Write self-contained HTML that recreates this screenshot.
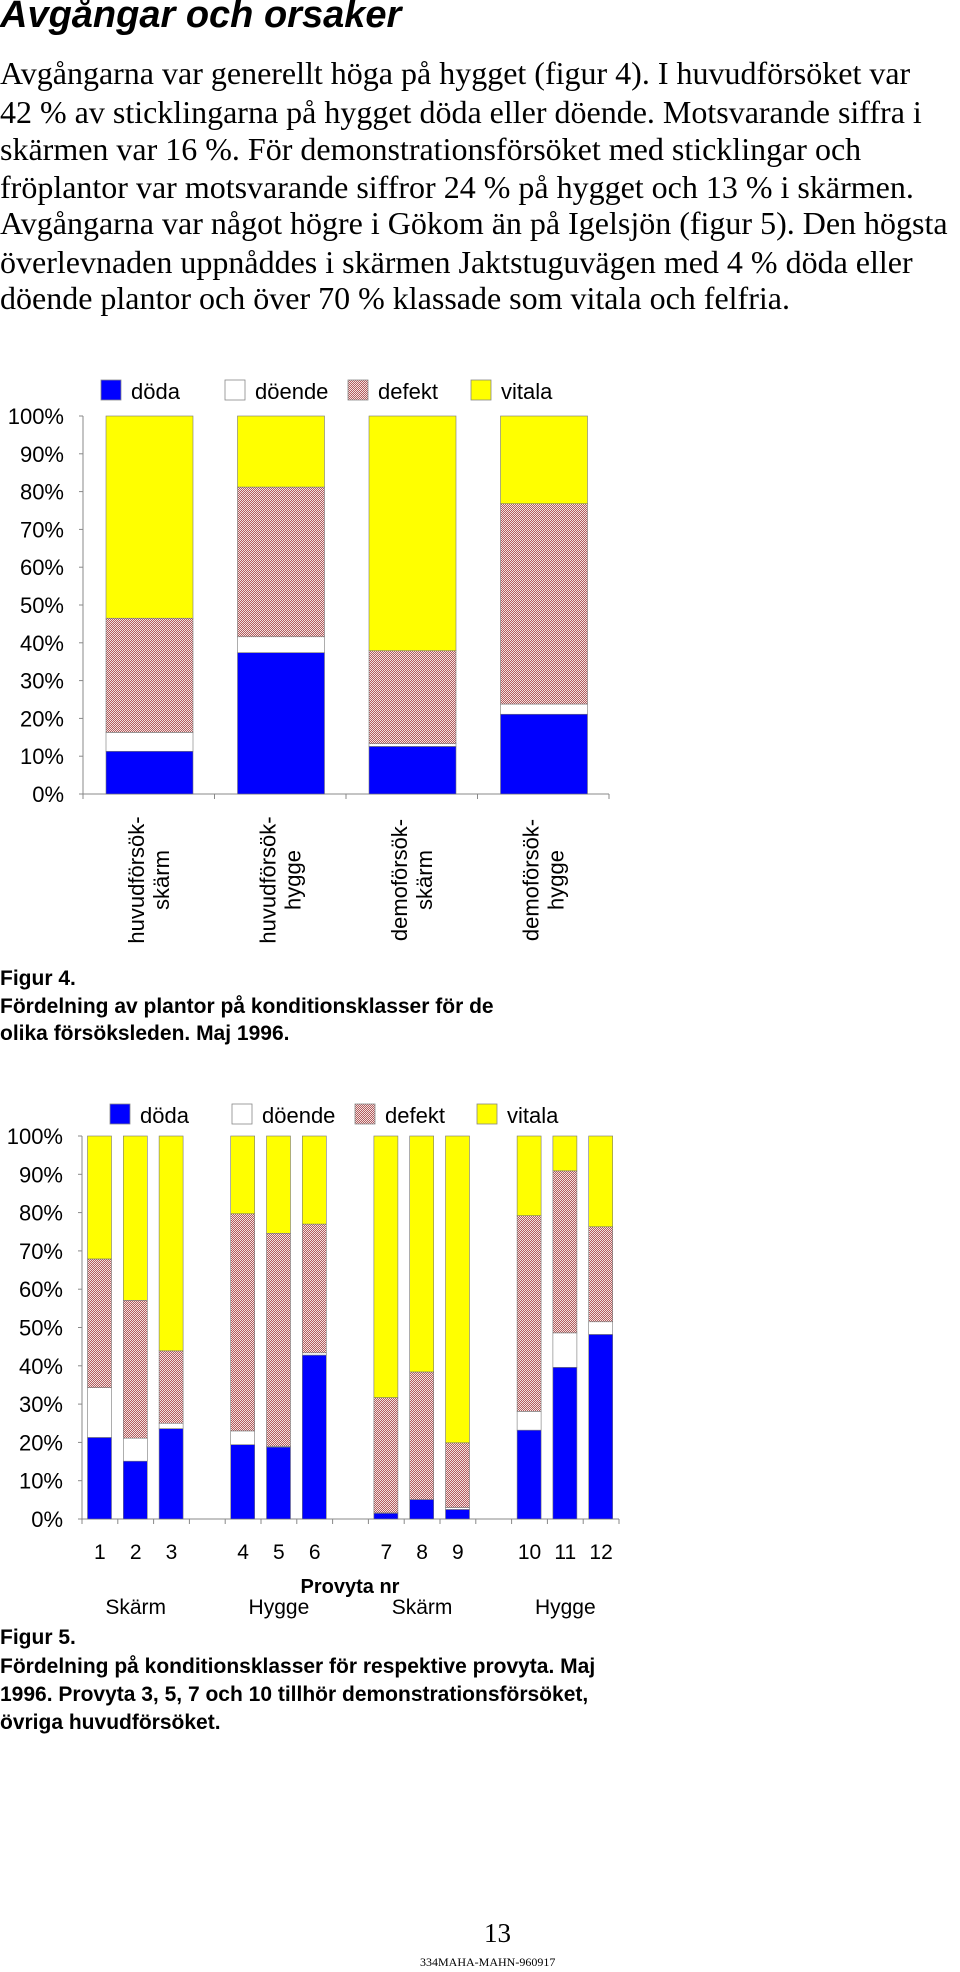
<!DOCTYPE html>
<html><head><meta charset="utf-8">
<style>
html,body{margin:0;padding:0;background:#fff;}
body{width:960px;height:1972px;position:relative;overflow:hidden;font-family:"Liberation Sans",Arial,sans-serif;}
.abs{position:absolute;white-space:nowrap;}
.para{font-family:"Liberation Serif",serif;font-size:32px;left:0;line-height:36px;}
.cap{font-weight:bold;font-size:21px;left:0;}
</style></head>
<body>
<div class="abs" style="left:0;top:-6px;font-size:38px;font-weight:bold;font-style:italic;">Avgångar och orsaker</div>
<div>
<div class="abs para" style="top:55px">Avgångarna var generellt höga på hygget (figur 4). I huvudförsöket var</div>
<div class="abs para" style="top:94px">42 % av sticklingarna på hygget döda eller döende. Motsvarande siffra i</div>
<div class="abs para" style="top:131px">skärmen var 16 %. För demonstrationsförsöket med sticklingar och</div>
<div class="abs para" style="top:169px">fröplantor var motsvarande siffror 24 % på hygget och 13 % i skärmen.</div>
<div class="abs para" style="top:205px">Avgångarna var något högre i Gökom än på Igelsjön (figur 5). Den högsta</div>
<div class="abs para" style="top:244px">överlevnaden uppnåddes i skärmen Jaktstuguvägen med 4 % döda eller</div>
<div class="abs para" style="top:280px">döende plantor och över 70 % klassade som vitala och felfria.</div>
</div>

<svg id="charts" width="960" height="1972" style="position:absolute;left:0;top:0" xmlns="http://www.w3.org/2000/svg">
<defs>
<pattern id="defekt" width="2" height="2" patternUnits="userSpaceOnUse">
<rect width="2" height="2" fill="#b45c5c"/>
<rect x="0" y="0" width="1" height="1" fill="#f2e2e2"/>
<rect x="1" y="1" width="1" height="1" fill="#f2e2e2"/>
</pattern>
</defs>
<g id="chart1"></g>
<g id="chart2"></g>
</svg>

<div>
<div class="abs cap" style="top:967px">Figur 4.</div>
<div class="abs cap" style="top:995px">Fördelning av plantor på konditionsklasser för de</div>
<div class="abs cap" style="top:1022px">olika försöksleden. Maj 1996.</div>
</div>
<div>
<div class="abs cap" style="top:1626px">Figur 5.</div>
<div class="abs cap" style="top:1655px">Fördelning på konditionsklasser för respektive provyta. Maj</div>
<div class="abs cap" style="top:1683px">1996. Provyta 3, 5, 7 och 10 tillhör demonstrationsförsöket,</div>
<div class="abs cap" style="top:1711px">övriga huvudförsöket.</div>
</div>
<div class="abs" style="left:484px;top:1918px;font-family:'Liberation Serif',serif;font-size:27px;">13</div>
<div class="abs" style="left:420px;top:1955px;font-family:'Liberation Serif',serif;font-size:12px;">334MAHA-MAHN-960917</div>

<script>
// Figure 4 data
const cats1 = ["huvudförsök-|skärm","huvudförsök-|hygge","demoförsök-|skärm","demoförsök-|hygge"];
const doda1 = [11.3, 37.4, 12.6, 21.1];
const doende1 = [5.0, 4.2, 0.7, 2.7];
const defekt1 = [30.2, 39.6, 24.6, 53.0];
const vitala1 = [53.5, 18.8, 62.1, 23.2];
// Figure 5 data
const cats2 = ["1","2","3","4","5","6","7","8","9","10","11","12"];
const doda2 = [21.3, 15.1, 23.6, 19.4, 18.8, 42.8, 1.5, 5.1, 2.5, 23.2, 39.6, 48.2];
const doende2 = [13.0, 6.0, 1.4, 3.6, 0.2, 0.6, 0.1, 0.0, 0.5, 4.9, 9.0, 3.3];
const defekt2 = [33.6, 36.0, 18.9, 56.7, 55.6, 33.6, 30.1, 33.3, 16.9, 51.1, 42.3, 24.8];
const vitala2 = [32.1, 42.9, 56.1, 20.3, 25.4, 23.0, 68.3, 61.6, 80.1, 20.8, 9.1, 23.7];
const ticks = ["0%","10%","20%","30%","40%","50%","60%","70%","80%","90%","100%"];
const groups2 = ["Skärm","Hygge","Skärm","Hygge"];
const legendNames = ["döda","döende","defekt","vitala"];

const NS = "http://www.w3.org/2000/svg";
const fills = ["#0000ff","#ffffff","url(#defekt)","#ffff00"];
function mk(parent, tag, attrs, text){
  const e = document.createElementNS(NS, tag);
  for (const k in attrs) e.setAttribute(k, attrs[k]);
  if (text !== undefined) e.textContent = text;
  parent.appendChild(e);
  return e;
}

function drawChart(g, cfg, series, catSlots, nSlots, legendPos){
  const y = v => cfg.y0 - (v/100)*(cfg.y0-cfg.yTop);
  const xs = i => cfg.x0 + i*cfg.slot;
  const ax = mk(g,"line",{x1:cfg.x0,y1:cfg.yTop,x2:cfg.x0,y2:cfg.y0,stroke:"#888","stroke-width":1});
  
  
  ticks.forEach((t,i)=>{
    const v = i*10;
    const tk = mk(g,"line",{x1:cfg.x0-4,y1:y(v),x2:cfg.x0,y2:y(v),stroke:"#888"});
    
    
    const lb = mk(g,"text",{x:cfg.labelRight,y:y(v)+8,"text-anchor":"end","font-size":22,"font-family":"Liberation Sans, sans-serif"},t);
    
    
  });
  const xa = mk(g,"line",{x1:cfg.x0,y1:cfg.y0,x2:xs(nSlots),y2:cfg.y0,stroke:"#888"});
  
  
  for(let i=0;i<=nSlots;i++){
    const xt = mk(g,"line",{x1:xs(i),y1:cfg.y0,x2:xs(i),y2:cfg.y0+5,stroke:"#888"});
    
    
  }
  catSlots.forEach((s,ci)=>{
    let acc = 0;
    series.forEach((arr,si)=>{
      const v = arr[ci];
      const r = mk(g,"rect",{x:xs(s)+cfg.off,y:y(acc+v),width:cfg.bw,height:Math.max(0,y(acc)-y(acc+v)),fill:fills[si],stroke:"#777","stroke-width":0.6});
      
      
      acc += v;
    });
  });
  legendNames.forEach((n,i)=>{
    const lx = legendPos.xs[i];
    const sq = mk(g,"rect",{x:lx,y:legendPos.y,width:20,height:20,fill:fills[i],stroke:"#888","stroke-width":0.8});
    
    
    const tx = mk(g,"text",{x:lx+30,y:legendPos.y+19,"font-size":22,"font-family":"Liberation Sans, sans-serif"},n);
    
    
  });
  return {y, xs};
}

// Chart 1
const g1 = document.getElementById("chart1");
const c1 = {x0:83,y0:794,yTop:416,slot:131.5,off:23,bw:87,labelRight:64};
const s1 = cats1.map((_,i)=>i);
const a1 = drawChart(g1,c1,[doda1,doende1,defekt1,vitala1],s1,4,{y:380,xs:[101,225,348,471]});
cats1.forEach((c,i)=>{
  const parts = c.split("|");
  const cx = a1.xs(i)+c1.slot/2;
  parts.forEach((p,j)=>{
    const px = cx - 13 + j*25 + 8;
    const t = mk(g1,"text",{x:px,y:880,"text-anchor":"middle","font-size":22,"font-family":"Liberation Sans, sans-serif",transform:`rotate(-90 ${px} 880)`},p);
    
    
  });
});

// Chart 2
const g2 = document.getElementById("chart2");
const c2 = {x0:82,y0:1519,yTop:1136,slot:35.8,off:5.5,bw:24,labelRight:63};
const s2 = cats2.map((_,i)=>i + Math.floor(i/3));
const a2 = drawChart(g2,c2,[doda2,doende2,defekt2,vitala2],s2,15,{y:1104,xs:[110,232,355,477]});
cats2.forEach((c,i)=>{
  const cx = a2.xs(s2[i])+c2.slot/2;
  const t = mk(g2,"text",{x:cx,y:1559,"text-anchor":"middle","font-size":21,"font-family":"Liberation Sans, sans-serif"},c);
  
  
});
const xt = mk(g2,"text",{x:350,y:1593,"text-anchor":"middle","font-size":20,"font-weight":"bold","font-family":"Liberation Sans, sans-serif"},"Provyta nr");


groups2.forEach((gname,i)=>{
  const cx = a2.xs(i*4+1.5);
  const t = mk(g2,"text",{x:cx,y:1614,"text-anchor":"middle","font-size":21,"font-family":"Liberation Sans, sans-serif"},gname);
  
  
});
</script>
</body></html>
